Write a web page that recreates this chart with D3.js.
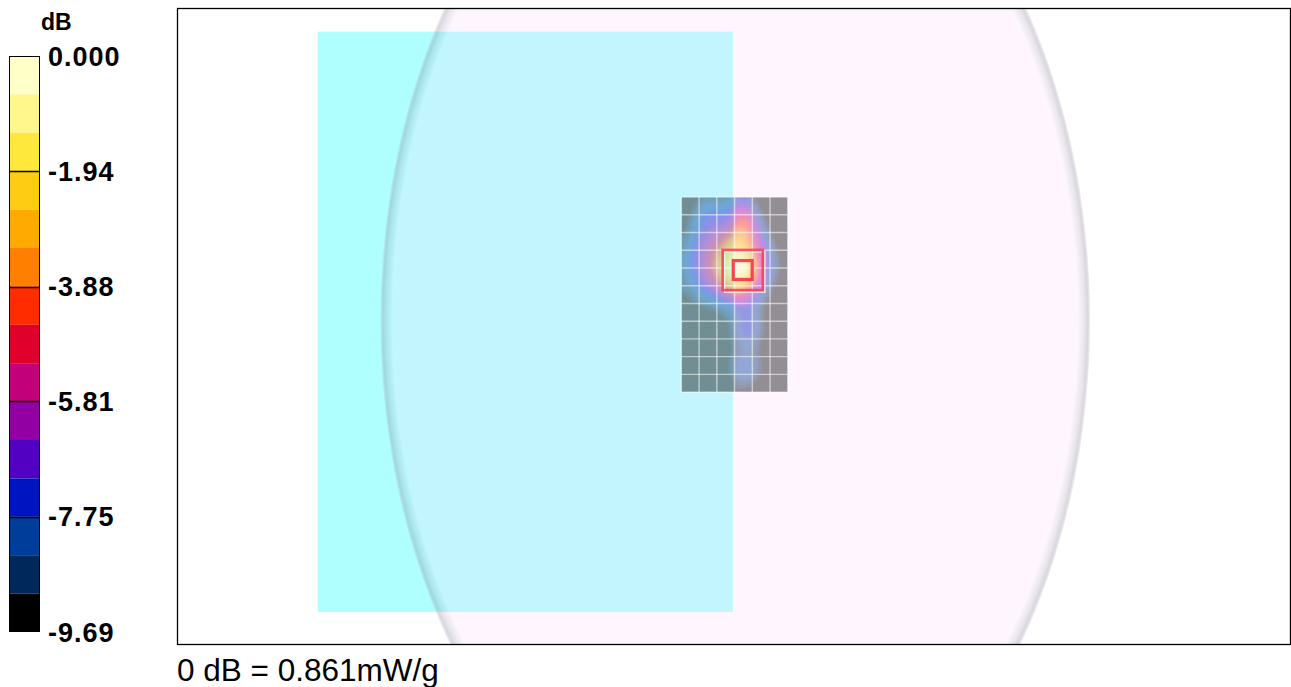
<!DOCTYPE html>
<html>
<head>
<meta charset="utf-8">
<script src="https://cdn.jsdelivr.net/npm/d3@7"></script>
<style>
  html, body { margin: 0; padding: 0; background: #ffffff; }
  svg { display: block; }
</style>
</head>
<body>
<svg id="chart" width="1291" height="687"></svg>
<script>
// ---- colour scale (dB relative to the peak) ----
const dBTop = 0;
const dBBottom = -9.69;
const bandColors = [
  "#FFFFC8", "#FFF68C", "#FFE83C", "#FFCC14", "#FFAA00",
  "#FF8000", "#FF2C00", "#E0002C", "#C2007A", "#9200A4",
  "#5200C2", "#0014C2", "#003C9A", "#00285A", "#000000"
];
const legendTicks = [0, -1.94, -3.88, -5.81, -7.75, -9.69];
const legendTickLabels = ["0.000", "-1.94", "-3.88", "-5.81", "-7.75", "-9.69"];
const unitLabel = "dB";
const referenceLabel = "0 dB = 0.861mW/g";

// ---- scene geometry in mm (origin at phantom centre) ----
const viewX = [-472, 469];
const viewY = [-264, 275];
const phantomCenter = [0, 0];
const phantomRadii = [300, 461];
const deviceX = [-353, -2];
const deviceY = [-244, 247];

// area scan: 6 x 11 steps of 15 mm
const areaOrigin = [-45.6, -104];
const areaStep = 15;
const areaCols = 6;
const areaRows = 11;

// zoom scan cubes (centre, outer and inner edge length)
const zoomCenter = [6.3, -42.3];
const zoomOuter = 34;
const zoomInner = 16;

// measured field on a half-step raster (22 rows x 12 columns), dB
const fieldCols = 12;
const fieldRows = 22;
const fieldValues = [
  [-10.3, -9.4, -8.6, -8.4, -8.6, -8.3, -7.2, -7.5, -9.4,-10.5,-11.0,-11.0],
  [-10.0, -8.9, -7.9, -7.7, -7.8, -7.3, -6.0, -6.2, -8.5,-10.0,-11.0,-11.0],
  [ -9.6, -8.4, -7.4, -7.0, -7.0, -6.4, -4.7, -4.6, -7.5, -9.4,-10.8,-11.0],
  [ -9.3, -8.1, -7.0, -6.5, -6.2, -5.5, -3.8, -4.1, -6.7, -8.7,-10.2,-11.0],
  [ -9.0, -7.8, -6.6, -5.8, -5.2, -4.2, -3.0, -3.7, -6.0, -8.0, -9.6,-10.8],
  [ -8.6, -7.4, -6.2, -5.2, -4.2, -3.0, -2.2, -3.2, -5.3, -7.4, -9.0,-10.4],
  [ -8.3, -7.2, -6.0, -4.8, -3.4, -1.9, -1.2, -2.2, -4.6, -7.0, -8.6,-10.0],
  [ -8.2, -7.1, -5.8, -4.6, -2.8, -1.0, -0.2, -1.3, -4.2, -6.8, -8.4, -9.8],
  [ -8.4, -7.3, -6.0, -4.8, -3.0, -1.2, -0.4, -1.5, -4.3, -7.0, -8.6,-10.0],
  [ -8.6, -7.6, -6.5, -5.4, -4.0, -2.4, -1.6, -2.7, -5.0, -7.4, -9.0,-10.3],
  [ -9.0, -8.2, -7.4, -6.6, -5.4, -4.2, -3.5, -4.6, -6.4, -8.2, -9.6,-10.8],
  [ -9.4, -8.9, -8.4, -7.8, -7.1, -6.4, -5.8, -6.2, -7.5, -9.0,-10.3,-11.0],
  [ -9.9, -9.6, -9.3, -9.0, -8.6, -8.1, -7.4, -7.4, -8.2, -9.5,-10.8,-11.0],
  [-10.4,-10.2,-10.0, -9.8, -9.4, -8.8, -7.9, -7.5, -8.2, -9.6,-11.0,-11.0],
  [-11.0,-10.8,-10.5,-10.3, -9.9, -9.1, -7.9, -7.3, -8.0, -9.5,-11.0,-11.0],
  [-11.0,-11.0,-10.8,-10.5,-10.1, -9.3, -8.0, -7.4, -8.2, -9.7,-11.0,-11.0],
  [-11.0,-11.0,-11.0,-10.8,-10.3, -9.4, -8.4, -8.0, -8.8,-10.1,-11.0,-11.0],
  [-11.0,-11.0,-11.0,-11.0,-10.5, -9.4, -8.6, -8.3, -9.0,-10.3,-11.0,-11.0],
  [-11.0,-11.0,-11.0,-11.0,-10.3, -9.1, -8.0, -7.8, -8.6,-10.0,-11.0,-11.0],
  [-11.0,-11.0,-11.0,-11.0,-10.3, -9.1, -7.8, -7.7, -8.6,-10.0,-11.0,-11.0],
  [-11.0,-11.0,-11.0,-11.0,-10.6, -9.5, -8.3, -8.3, -9.1,-10.4,-11.0,-11.0],
  [-11.0,-11.0,-11.0,-11.0,-11.0,-10.1, -9.1, -9.2, -9.8,-10.8,-11.0,-11.0]
];

// ---- layout ----
const plot = { left: 177, top: 8, right: 1290, bottom: 645 };
const bar = { left: 9, right: 40, top: 56, bottom: 632 };

const svg = d3.select("#chart");
const defs = svg.append("defs");

const x = d3.scaleLinear().domain(viewX).range([plot.left, plot.right]);
const y = d3.scaleLinear().domain(viewY).range([plot.top, plot.bottom]);

// ---------- legend ----------
const yLegend = d3.scaleLinear().domain([dBTop, dBBottom]).range([bar.top, bar.bottom]);
const bandStep = (dBTop - dBBottom) / bandColors.length;
const legend = svg.append("g").attr("class", "legend");

legend.selectAll("rect.band")
  .data(bandColors)
  .join("rect")
  .attr("class", "band")
  .attr("x", bar.left)
  .attr("width", bar.right - bar.left)
  .attr("y", (d, i) => yLegend(dBTop - i * bandStep))
  .attr("height", (d, i) => yLegend(dBTop - (i + 1) * bandStep) - yLegend(dBTop - i * bandStep))
  .attr("fill", d => d);

legend.append("rect")
  .attr("x", bar.left + 0.5).attr("y", bar.top + 0.5)
  .attr("width", bar.right - bar.left - 1).attr("height", bar.bottom - bar.top - 1)
  .attr("fill", "none").attr("stroke", "#000").attr("stroke-width", 1);

legend.selectAll("line.tick")
  .data(legendTicks.slice(1, -1))
  .join("line")
  .attr("class", "tick")
  .attr("x1", bar.left).attr("x2", bar.right)
  .attr("y1", d => Math.round(yLegend(d)) + 0.5)
  .attr("y2", d => Math.round(yLegend(d)) + 0.5)
  .attr("stroke", "#000").attr("stroke-width", 1.5);

legend.selectAll("text.tick-label")
  .data(legendTicks)
  .join("text")
  .attr("class", "tick-label")
  .attr("x", 48)
  .attr("y", d => yLegend(d) + 9.5)
  .attr("font-family", "Liberation Sans, Arial, sans-serif")
  .attr("font-weight", "bold")
  .attr("font-size", 27)
  .attr("letter-spacing", 1)
  .attr("fill", "#000")
  .text((d, i) => legendTickLabels[i]);

legend.append("text")
  .attr("x", 41).attr("y", 30)
  .attr("font-family", "Liberation Sans, Arial, sans-serif")
  .attr("font-weight", "bold")
  .attr("font-size", 23)
  .attr("fill", "#000")
  .text(unitLabel);

// ---------- plot scene ----------
defs.append("clipPath").attr("id", "plot-clip")
  .append("rect")
  .attr("x", plot.left).attr("y", plot.top)
  .attr("width", plot.right - plot.left).attr("height", plot.bottom - plot.top);

const rim = defs.append("radialGradient").attr("id", "phantom-rim");
[
  [0,     "rgb(251,217,251)", 0.26],
  [0.966, "rgb(251,217,251)", 0.26],
  [0.982, "rgb(160,150,175)", 0.22],
  [0.993, "rgb(120,112,135)", 0.28],
  [1,     "rgb(190,180,200)", 0.25]
].forEach(([o, c, a]) => rim.append("stop")
  .attr("offset", o).attr("stop-color", c).attr("stop-opacity", a));

const scene = svg.append("g").attr("clip-path", "url(#plot-clip)");

// device outline (cyan)
scene.append("rect")
  .attr("x", x(deviceX[0])).attr("y", y(deviceY[0]))
  .attr("width", x(deviceX[1]) - x(deviceX[0]))
  .attr("height", y(deviceY[1]) - y(deviceY[0]))
  .attr("fill", "#AFFFFF");

// flat phantom shell
scene.append("ellipse")
  .attr("cx", x(phantomCenter[0])).attr("cy", y(phantomCenter[1]))
  .attr("rx", x(phantomRadii[0]) - x(0))
  .attr("ry", y(phantomRadii[1]) - y(0))
  .attr("fill", "url(#phantom-rim)");

// ---------- area scan field ----------
const areaX0 = x(areaOrigin[0]);
const areaX1 = x(areaOrigin[0] + areaCols * areaStep);
const areaY0 = y(areaOrigin[1]);
const areaY1 = y(areaOrigin[1] + areaRows * areaStep);

defs.append("clipPath").attr("id", "area-clip")
  .append("rect")
  .attr("x", areaX0).attr("y", areaY0)
  .attr("width", areaX1 - areaX0).attr("height", areaY1 - areaY0);

const soft = defs.append("filter").attr("id", "soft")
  .attr("x", "-10%").attr("y", "-10%").attr("width", "120%").attr("height", "120%");
soft.append("feGaussianBlur").attr("stdDeviation", 2.2);

const gx = d3.scaleLinear().domain([0, fieldCols]).range([areaX0, areaX1]);
const gy = d3.scaleLinear().domain([0, fieldRows]).range([areaY0, areaY1]);
const fieldPath = d3.geoPath(d3.geoTransform({
  point(px, py) { this.stream.point(gx(px), gy(py)); }
}));

const thresholds = d3.range(1, bandColors.length).map(i => dBBottom + i * bandStep);
const bands = d3.contours()
  .size([fieldCols, fieldRows])
  .thresholds(thresholds)(fieldValues.flat());

const heat = scene.append("g")
  .attr("clip-path", "url(#area-clip)")
  .attr("opacity", 0.42)
  .append("g")
  .attr("filter", "url(#soft)");

heat.append("rect")
  .attr("x", areaX0 - 12).attr("y", areaY0 - 12)
  .attr("width", areaX1 - areaX0 + 24).attr("height", areaY1 - areaY0 + 24)
  .attr("fill", bandColors[bandColors.length - 1]);

heat.selectAll("path")
  .data(bands)
  .join("path")
  .attr("d", fieldPath)
  .attr("fill", (d, i) => bandColors[bandColors.length - 2 - i]);

// scan grid
const gridXs = d3.range(areaCols + 1).map(i => x(areaOrigin[0] + i * areaStep));
const gridYs = d3.range(areaRows + 1).map(i => y(areaOrigin[1] + i * areaStep));
const grid = scene.append("g")
  .attr("stroke", "#ffffff").attr("stroke-opacity", 0.55).attr("stroke-width", 1.4);
grid.selectAll("line.v").data(gridXs).join("line").attr("class", "v")
  .attr("x1", d => d).attr("x2", d => d).attr("y1", areaY0).attr("y2", areaY1);
grid.selectAll("line.h").data(gridYs).join("line").attr("class", "h")
  .attr("y1", d => d).attr("y2", d => d).attr("x1", areaX0).attr("x2", areaX1);

// zoom scan cubes
const cubes = scene.append("g").attr("fill", "none");
const cubeRect = (size, dx, dy) => ({
  x: x(zoomCenter[0] - size / 2) + dx,
  y: y(zoomCenter[1] - size / 2) + dy,
  w: x(zoomCenter[0] + size / 2) - x(zoomCenter[0] - size / 2),
  h: y(zoomCenter[1] + size / 2) - y(zoomCenter[1] - size / 2)
});
const outerShadow = cubeRect(zoomOuter, 2, 2);
cubes.append("rect")
  .attr("x", outerShadow.x).attr("y", outerShadow.y)
  .attr("width", outerShadow.w).attr("height", outerShadow.h)
  .attr("stroke", "#ffffff").attr("stroke-opacity", 0.8).attr("stroke-width", 1.5);
const outer = cubeRect(zoomOuter, 0, 0);
cubes.append("rect")
  .attr("x", outer.x).attr("y", outer.y)
  .attr("width", outer.w).attr("height", outer.h)
  .attr("stroke", "#ff3a4a").attr("stroke-opacity", 0.85).attr("stroke-width", 2.6);
const inner = cubeRect(zoomInner, 0, 0);
cubes.append("rect")
  .attr("x", inner.x).attr("y", inner.y)
  .attr("width", inner.w).attr("height", inner.h)
  .attr("stroke", "#ff3040").attr("stroke-opacity", 0.9).attr("stroke-width", 3.2);

// plot frame
svg.append("rect")
  .attr("x", plot.left + 0.5).attr("y", plot.top + 0.5)
  .attr("width", plot.right - plot.left).attr("height", plot.bottom - plot.top - 1)
  .attr("fill", "none").attr("stroke", "#000").attr("stroke-width", 1.3);

// reference level note
svg.append("text")
  .attr("x", plot.left).attr("y", 681)
  .attr("font-family", "Liberation Sans, Arial, sans-serif")
  .attr("font-size", 31.5)
  .attr("fill", "#000")
  .text(referenceLabel);
</script>
</body>
</html>
